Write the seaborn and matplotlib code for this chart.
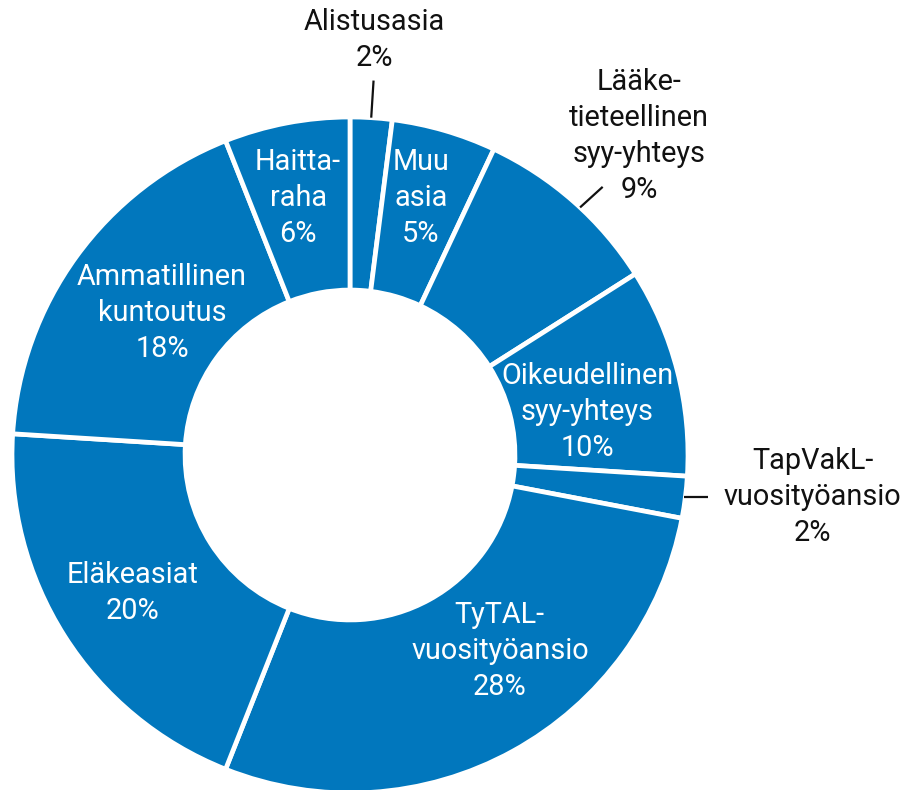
import numpy as np
import matplotlib
matplotlib.use("Agg")
import matplotlib.pyplot as plt
import seaborn as sns

# Case categories (clockwise from 12 o'clock) and their shares in percent
categories = [
    "Alistusasia",
    "Muu\nasia",
    "Lääke-\ntieteellinen\nsyy-yhteys",
    "Oikeudellinen\nsyy-yhteys",
    "TapVakL-\nvuosityöansio",
    "TyTAL-\nvuosityöansio",
    "Eläkeasiat",
    "Ammatillinen\nkuntoutus",
    "Haitta-\nraha",
]
shares = [2, 5, 9, 10, 2, 28, 20, 18, 6]

sns.set_theme(style="white")
plt.rcParams["font.family"] = ["Roboto", "DejaVu Sans"]

blue = sns.color_palette(["#0177bd"])[0]

W, H, DPI = 908, 790, 100
fig = plt.figure(figsize=(W / DPI, H / DPI), dpi=DPI)
ax = fig.add_axes([0, 0, 1, 1])

wedges, _ = ax.pie(
    shares,
    colors=[blue] * len(shares),
    startangle=90,
    counterclock=False,
    radius=1.0,
    wedgeprops=dict(width=0.512, edgecolor="white", linewidth=3.4),
)

# pixel geometry of the ring: centre and outer radius
cx, cy, R = 350, 455, 338
ax.set_xlim(-cx / R, (W - cx) / R)
ax.set_ylim(-(H - cy) / R, cy / R)
ax.set_aspect("equal")
ax.axis("off")

# mid angle of each wedge, measured clockwise from the top (degrees)
cum = np.cumsum(shares)
mid = (cum - np.array(shares) / 2) / sum(shares) * 360.0


def polar(theta_deg, r):
    t = np.deg2rad(theta_deg)
    return r * np.sin(t), r * np.cos(t)


fs = 20.8
# label placement: (angle shift from wedge mid, radius, inside?)
layout = {
    0: (-0.3, 1.23, False),
    1: (-0.8, 0.789, True),
    2: (0.8, 1.273, False),
    3: (4.1, 0.713, True),
    4: (-2.0, 1.374, False),
    5: (-8.6, 0.730, True),
    6: (0.0, 0.761, True),
    7: (1.1, 0.697, True),
    8: (-0.6, 0.776, True),
}

for i, (name, val) in enumerate(zip(categories, shares)):
    dth, r, inside = layout[i]
    x, y = polar(mid[i] + dth, r)
    ax.text(
        x, y, f"{name}\n{val}%",
        ha="center", va="center", multialignment="center",
        fontsize=fs, linespacing=1.36,
        color="white" if inside else "#111111",
    )

# leader lines for the outside labels
lc = dict(color="#111111", lw=1.6, solid_capstyle="butt")
x0, y0 = polar(mid[0], 1.0)
x1, y1 = polar(mid[0], 1.11)
ax.plot([x0, x1], [y0, y1], **lc)

x0, y0 = polar(mid[2] + 1.5, 1.0)
x1, y1 = polar(mid[2] + 1.9, 1.09)
ax.plot([x0, x1], [y0, y1], **lc)

x0, y0 = polar(mid[4], 0.995)
ax.plot([x0, x0 + 24 / R], [y0, y0], **lc)

fig.savefig("out.png", dpi=DPI, facecolor="white")
